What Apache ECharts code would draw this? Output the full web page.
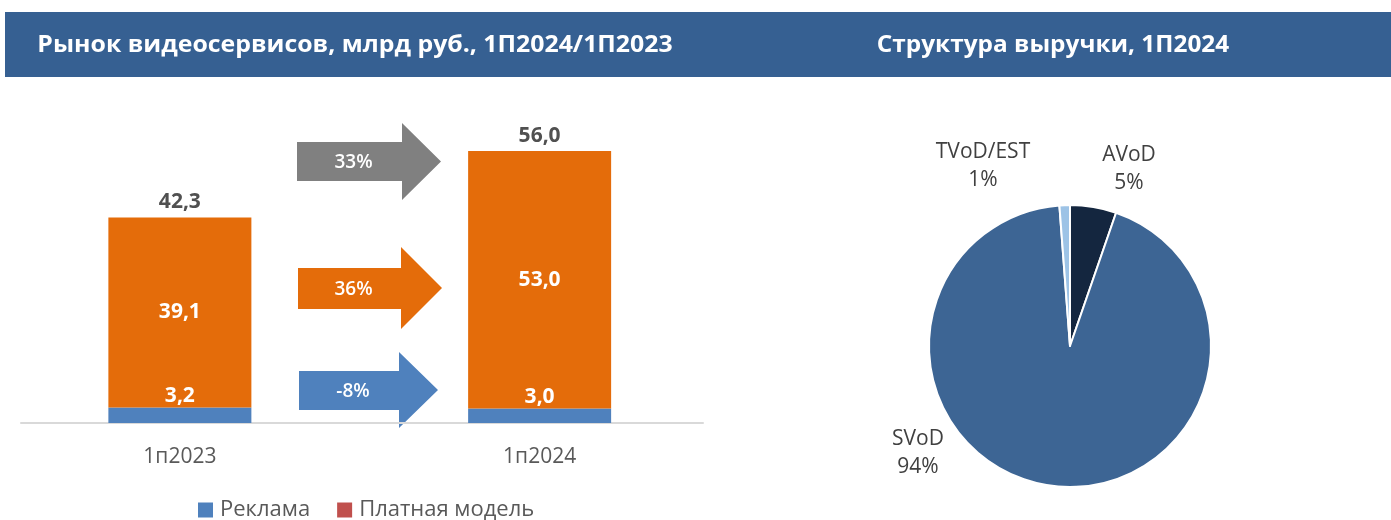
<!DOCTYPE html>
<html>
<head>
<meta charset="utf-8">
<script src="https://cdn.jsdelivr.net/npm/echarts@6/dist/echarts.min.js"></script>
<style>
  html, body { margin: 0; padding: 0; background: #fff; }
  #myChart { width: 1391px; height: 520px; }
</style>
</head>
<body>
<div id="myChart"></div>
<script>
// data
var periods = ['1п2023', '1п2024'];
var adValues = [3.2, 3.0];          // Реклама
var paidValues = [39.1, 53.0];      // Платная модель
var totals = [42.3, 56.0];
var growth = ['33%', '36%', '-8%']; // total, paid, ad
var pieNames = ['AVoD', 'SVoD', 'TVoD/EST'];
var pieValues = [5.3, 93.5, 1.2];

function fmt(v) {
	return v.toFixed(1).replace('.', ',');
}

// arrow shape: body left, body top/bottom, head base x, head top/bottom, tip x
function arrow(x0, bt, bb, hx, ht, hb, tip, color, text) {
	var my = (ht + hb) / 2;
	return {
		type: 'group',
		children: [
			{
				type: 'polygon',
				shape: { points: [[x0, bt], [hx, bt], [hx, ht], [tip, my], [hx, hb], [hx, bb], [x0, bb]] },
				style: { fill: color }
			},
			{
				type: 'text',
				x: (x0 + hx) / 2 + 4,
				y: (bt + bb) / 2 + 1,
				style: { text: text, fill: '#fff', font: '600 19px "Open Sans"', align: 'center', verticalAlign: 'middle' }
			}
		]
	};
}

var myChart = echarts.init(document.getElementById('myChart'));

var pieLabelPos = [[1129, 169], [918, 453], [983, 166]];

var option = {
	animation: false,
	textStyle: { fontFamily: 'Open Sans' },
	legend: {
		data: [
			{ name: 'Реклама', itemStyle: { color: '#4F81BD' } },
			{ name: 'Платная модель', itemStyle: { color: '#C0504D' } }
		],
		left: 193,
		top: 494,
		itemWidth: 15,
		itemHeight: 15,
		itemGap: 27,
		icon: 'rect',
		textStyle: { color: '#595959', fontSize: 22, padding: [0, 0, 0, 2] }
	},
	grid: [
		{ left: -2.5, width: 722, top: 131.6, bottom: 97 },
		{ left: 21, width: 682, top: 131.6, bottom: 97 }
	],
	xAxis: [
		{
			type: 'category',
			gridIndex: 0,
			data: periods,
			axisLine: { show: false },
			axisTick: { show: false },
			axisLabel: { color: '#595959', fontSize: 21, margin: 24 }
		},
		{
			type: 'category',
			gridIndex: 1,
			data: periods,
			axisLine: { lineStyle: { color: '#D9D9D9', width: 2 } },
			axisTick: { show: false },
			axisLabel: { show: false }
		}
	],
	yAxis: [
		{ type: 'value', gridIndex: 0, min: 0, max: 60, show: false },
		{ type: 'value', gridIndex: 1, min: 0, max: 60, show: false }
	],
	series: [
		{
			name: 'Реклама',
			type: 'bar',
			stack: 'market',
			barWidth: 143,
			data: adValues,
			itemStyle: { color: '#4F81BD' },
			label: {
				show: true,
				position: 'top',
				distance: 1,
				color: '#fff',
				fontSize: 21,
				fontWeight: 'bold',
				formatter: function (p) { return fmt(p.value); }
			}
		},
		{
			name: 'Платная модель',
			type: 'bar',
			stack: 'market',
			barWidth: 143,
			data: paidValues,
			itemStyle: { color: '#E46C0A' },
			label: {
				show: true,
				position: 'inside',
				color: '#fff',
				fontSize: 21,
				fontWeight: 'bold',
				formatter: function (p) { return fmt(p.value); }
			}
		},
		{
			name: 'Итого',
			type: 'scatter',
			symbolSize: 0,
			data: totals,
			itemStyle: { opacity: 1, color: 'rgba(0,0,0,0)' },
			label: {
				show: true,
				position: 'top',
				distance: 5,
				color: '#505050',
				opacity: 1,
				fontSize: 21,
				fontWeight: 'bold',
				formatter: function (p) { return fmt(p.value); }
			}
		},
		{
			name: 'Структура',
			type: 'pie',
			center: [1070, 346],
			radius: 141,
			startAngle: 90,
			clockwise: true,
			data: pieNames.map(function (n, i) { return { name: n, value: pieValues[i] }; }),
			color: ['#14263F', '#3D6594', '#9DC3E6'],
			itemStyle: { borderColor: '#fff', borderWidth: 2 },
			label: {
				show: true,
				position: 'outside',
				color: '#404040',
				fontSize: 21,
				lineHeight: 28,
				align: 'center',
				formatter: function (p) { return p.name + '\n' + Math.round(p.value) + '%'; }
			},
			labelLine: { show: false },
			labelLayout: function (p) {
				var pos = pieLabelPos[p.dataIndex];
				return { x: pos[0], y: pos[1], align: 'center', verticalAlign: 'middle' };
			}
		}
	],
	graphic: [
		{
			type: 'rect',
			shape: { x: 5, y: 12, width: 1386, height: 65 },
			style: { fill: '#366092' }
		},
		{
			type: 'text',
			x: 355,
			y: 45,
			scaleX: 1.08,
			style: { text: 'Рынок видеосервисов, млрд руб., 1П2024/1П2023', fill: '#fff', font: 'bold 23px "Open Sans"', align: 'center', verticalAlign: 'middle' }
		},
		{
			type: 'text',
			x: 1053,
			y: 45,
			scaleX: 1.06,
			style: { text: 'Структура выручки, 1П2024', fill: '#fff', font: 'bold 23px "Open Sans"', align: 'center', verticalAlign: 'middle' }
		},
		arrow(297, 142, 181, 402, 123, 200, 441, '#808080', growth[0]),
		arrow(298, 268, 309, 401, 247, 329, 442, '#E46C0A', growth[1]),
		arrow(299, 371, 410, 399, 352, 428, 438, '#4F81BD', growth[2])
	]
};

myChart.setOption(option);
</script>
</body>
</html>
